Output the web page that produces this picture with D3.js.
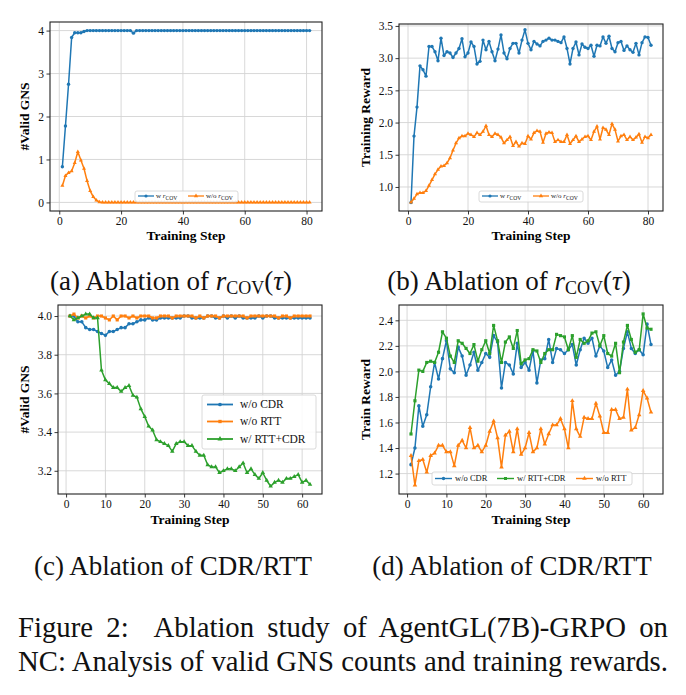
<!DOCTYPE html>
<html>
<head>
<meta charset="utf-8">
<script src="https://cdn.jsdelivr.net/npm/d3@7"></script>
<style>
  body { margin: 0; background: #fff; }
  svg { display: block; font-family: "Liberation Serif", "Times New Roman", serif; }
</style>
</head>
<body>
<script>
// ---- data ----
var stepsAB = d3.range(1, 82);   // training steps 1..81
var stepsCD = d3.range(1, 63);   // training steps 1..62

var validWithCov = [0.83,1.78,2.75,3.84,3.95,3.95,3.95,3.98,4.0,4.0,
  4.0,4.0,4.0,4.0,4.0,4.0,4.0,4.0,4.0,4.0,
  4.0,4.0,4.0,3.94,4.0,4.0,4.0,4.0,4.0,4.0,
  4.0,4.0,4.0,4.0,4.0,4.0,4.0,4.0,4.0,4.0,
  4.0,4.0,4.0,4.0,4.0,4.0,4.0,4.0,4.0,4.0,
  4.0,4.0,4.0,4.0,4.0,4.0,4.0,4.0,4.0,4.0,
  4.0,4.0,4.0,4.0,4.0,4.0,4.0,4.0,4.0,4.0,
  4.0,4.0,4.0,4.0,4.0,4.0,4.0,4.0,4.0,4.0,
  4.0];
var validWithoutCov = [0.39,0.62,0.69,0.73,0.92,1.18,0.98,0.79,0.50,0.27,
  0.13,0.05,0.01,0,0,0,0,0,0,0,
  0,0,0,0,0,0,0,0,0,0,
  0,0,0,0,0,0,0,0,0,0,
  0,0,0,0,0,0,0,0,0,0,
  0,0,0,0,0,0,0,0,0,0,
  0,0,0,0,0,0,0,0,0,0,
  0,0,0,0,0,0,0,0,0,0,
  0];

var rewardWithCov = [0.76,1.79,2.24,2.88,2.82,2.72,3.18,3.18,3.10,2.96,
  3.31,3.04,3.10,3.08,3.01,3.08,3.15,3.30,3.02,3.08,
  3.25,3.18,2.91,2.95,3.28,3.13,3.26,3.10,2.96,3.14,
  3.36,3.08,2.99,3.15,3.23,3.23,3.08,3.28,3.44,3.23,
  3.13,3.26,3.22,3.19,3.26,3.28,3.31,3.28,3.28,3.26,
  3.24,3.33,3.15,2.91,3.15,3.25,3.05,3.22,3.17,3.15,
  3.20,3.03,3.20,3.19,3.33,3.23,3.34,3.15,3.10,3.24,
  3.26,3.12,3.19,3.13,3.09,3.23,3.05,3.24,3.33,3.32,
  3.20];
var rewardWithoutCov = [0.76,0.82,0.89,0.91,0.91,0.94,1.02,1.11,1.20,1.27,
  1.32,1.33,1.37,1.45,1.57,1.68,1.76,1.79,1.79,1.83,
  1.81,1.78,1.84,1.81,1.86,1.95,1.81,1.78,1.83,1.81,
  1.77,1.68,1.73,1.78,1.64,1.70,1.63,1.68,1.67,1.79,
  1.74,1.84,1.87,1.86,1.69,1.83,1.85,1.84,1.70,1.73,
  1.70,1.70,1.81,1.67,1.73,1.79,1.70,1.74,1.78,1.79,
  1.73,1.86,1.94,1.74,1.92,1.89,1.81,1.98,1.89,1.71,
  1.79,1.81,1.73,1.78,1.73,1.77,1.82,1.69,1.78,1.76,
  1.81];

var validNoCdr = [4.00,4.00,3.97,3.97,3.94,3.93,3.93,3.92,3.91,3.90,
  3.92,3.92,3.93,3.94,3.94,3.96,3.96,3.97,3.98,3.98,
  3.99,3.98,3.98,3.99,3.99,3.99,3.99,3.99,3.99,4.00,
  4.00,3.99,3.99,3.99,3.99,4.00,4.00,3.99,3.99,4.00,
  3.99,4.00,3.99,4.00,3.99,3.99,3.99,3.99,4.00,3.99,
  4.00,4.00,3.99,3.99,3.99,3.99,3.99,3.99,3.99,3.99,
  3.99,3.99];
var validNoRtt = [4.00,4.01,3.99,4.00,3.99,4.00,3.99,4.00,4.00,3.99,
  3.98,4.00,3.98,4.00,4.00,3.99,4.00,3.99,4.00,4.00,
  4.00,3.99,3.99,4.00,4.00,4.00,3.99,4.00,4.00,4.00,
  4.00,4.00,3.99,4.00,3.99,4.00,4.00,4.00,3.99,4.00,
  4.00,4.00,4.00,4.00,4.00,3.99,4.00,4.00,4.00,4.00,
  4.00,4.00,4.00,3.99,4.00,4.00,3.99,4.00,4.00,4.00,
  4.00,4.00];
var validRttCdr = [4.00,3.98,3.99,4.00,4.01,4.01,3.99,3.99,3.72,3.67,
  3.65,3.63,3.63,3.61,3.63,3.64,3.59,3.58,3.52,3.48,
  3.43,3.41,3.36,3.35,3.34,3.33,3.30,3.34,3.35,3.35,
  3.33,3.33,3.30,3.28,3.28,3.23,3.22,3.22,3.19,3.20,
  3.21,3.21,3.20,3.22,3.24,3.19,3.21,3.18,3.16,3.19,
  3.15,3.12,3.14,3.15,3.14,3.16,3.16,3.17,3.18,3.14,
  3.15,3.13];

var rewardNoCdr = [1.27,1.40,1.73,1.57,1.66,1.88,2.07,1.94,2.10,2.24,
  2.02,1.99,2.19,2.12,1.97,2.05,2.15,2.01,2.07,2.14,
  2.11,2.28,2.23,1.87,2.07,2.05,1.98,2.22,2.03,2.07,
  2.01,2.16,1.91,2.09,2.10,2.25,2.07,2.18,2.17,2.14,
  2.17,2.21,2.05,2.17,2.26,2.22,2.26,2.12,2.20,2.16,
  2.03,2.09,1.97,2.00,2.18,2.31,2.18,2.14,2.17,2.13,
  2.37,2.21];
var rewardRttCdr = [1.51,1.77,2.01,2.00,2.07,2.08,2.07,2.15,2.31,2.26,
  2.12,2.07,2.24,2.22,2.18,2.14,2.21,2.08,2.17,2.24,
  2.14,2.36,2.24,2.07,2.23,2.27,2.18,2.32,2.06,2.09,
  2.10,2.17,2.16,2.07,2.14,2.17,2.17,2.29,2.28,2.27,
  2.17,2.28,2.11,2.25,2.22,2.24,2.30,2.31,2.20,2.28,
  2.14,2.12,2.22,1.99,2.23,2.36,2.25,2.15,2.17,2.45,
  2.34,2.33];
var rewardNoRtt = [1.34,1.11,1.30,1.31,1.21,1.34,1.36,1.42,1.42,1.37,
  1.37,1.26,1.42,1.46,1.40,1.56,1.40,1.42,1.37,1.42,
  1.53,1.61,1.48,1.25,1.50,1.53,1.37,1.55,1.35,1.40,
  1.52,1.37,1.40,1.55,1.43,1.51,1.58,1.58,1.63,1.55,
  1.40,1.77,1.55,1.49,1.64,1.63,1.63,1.75,1.65,1.52,
  1.52,1.70,1.70,1.63,1.64,1.86,1.54,1.56,1.66,1.85,
  1.79,1.68];

// tick labels
var ticksAB = [0, 20, 40, 60, 80];
var ticksCD = [0, 10, 20, 30, 40, 50, 60];
var yTicksA = [0, 1, 2, 3, 4];
var yTicksB = [1.0, 1.5, 2.0, 2.5, 3.0, 3.5];
var yTicksC = [3.2, 3.4, 3.6, 3.8, 4.0];
var yTicksD = [1.2, 1.4, 1.6, 1.8, 2.0, 2.2, 2.4];

var blue = "#1f77b4", orange = "#ff7f0e", green = "#2ca02c";

// legend label pieces: r_COV written with italic r and subscript
var lblWith = [{t: "w "}, {t: "r", it: true}, {t: "COV", sub: true}];
var lblWithout = [{t: "w/o "}, {t: "r", it: true}, {t: "COV", sub: true}];

var svg = d3.select("body").append("svg")
    .attr("width", 686)
    .attr("height", 695);

// write text made of pieces (italic / subscript)
function richText(sel, parts) {
  parts.forEach(function(p) {
    var ts = sel.append("tspan").text(p.t);
    if (p.it) ts.attr("font-style", "italic");
    if (p.sub) ts.attr("font-size", "0.8em").attr("dy", "0.25em");
  });
  return sel;
}

function symbolFor(name) {
  if (name == "square") return d3.symbolSquare;
  if (name == "triangle") return d3.symbolTriangle;
  return d3.symbolCircle;
}

function drawPanel(p) {
  var b = p.box;
  var x = d3.scaleLinear().domain(p.xDom).range([b[0], b[2]]);
  var y = d3.scaleLinear().domain(p.yDom).range([b[3], b[1]]);
  var g = svg.append("g");

  // grid
  g.selectAll(null).data(p.xTicks).join("line")
      .attr("x1", function(d) { return x(d); }).attr("x2", function(d) { return x(d); })
      .attr("y1", b[1]).attr("y2", b[3])
      .attr("stroke", "#d4d4d4").attr("stroke-width", 0.9);
  g.selectAll(null).data(p.yTicks).join("line")
      .attr("y1", function(d) { return y(d); }).attr("y2", function(d) { return y(d); })
      .attr("x1", b[0]).attr("x2", b[2])
      .attr("stroke", "#d4d4d4").attr("stroke-width", 0.9);

  // axes
  var ax = g.append("g").attr("transform", "translate(0," + b[3] + ")")
      .call(d3.axisBottom(x).tickValues(p.xTicks).tickSize(3.5).tickPadding(2.5).tickFormat(d3.format("d")));
  var ay = g.append("g").attr("transform", "translate(" + b[0] + ",0)")
      .call(d3.axisLeft(y).tickValues(p.yTicks).tickSize(3.5).tickPadding(2.5).tickFormat(p.fmt));
  [ax, ay].forEach(function(a) {
    a.select(".domain").remove();
    a.selectAll("text").attr("font-family", "Liberation Serif, serif").attr("font-size", 11.5).attr("fill", "#111");
    a.selectAll("line").attr("stroke", "#222").attr("stroke-width", 0.9);
  });

  // series
  var clipId = "clip" + p.id;
  g.append("clipPath").attr("id", clipId).append("rect")
      .attr("x", b[0]).attr("y", b[1]).attr("width", b[2] - b[0]).attr("height", b[3] - b[1]);
  var plot = g.append("g").attr("clip-path", "url(#" + clipId + ")");
  p.series.forEach(function(s) {
    var line = d3.line()
        .x(function(d, i) { return x(p.steps[i]); })
        .y(function(d) { return y(d); });
    plot.append("path").datum(s.values)
        .attr("d", line)
        .attr("fill", "none")
        .attr("stroke", s.color)
        .attr("stroke-width", 1.5)
        .attr("stroke-linejoin", "round");
    plot.selectAll(null).data(s.values).join("path")
        .attr("transform", function(d, i) { return "translate(" + x(p.steps[i]) + "," + y(d) + ")"; })
        .attr("d", d3.symbol().type(symbolFor(s.marker)).size(s.msize))
        .attr("fill", s.color);
  });

  // frame
  g.append("rect")
      .attr("x", b[0]).attr("y", b[1]).attr("width", b[2] - b[0]).attr("height", b[3] - b[1])
      .attr("fill", "none").attr("stroke", "#222").attr("stroke-width", 1.1);

  // axis labels
  g.append("text")
      .attr("x", (b[0] + b[2]) / 2).attr("y", p.xLabelY)
      .attr("text-anchor", "middle")
      .attr("font-weight", "bold").attr("font-size", 13.5)
      .text("Training Step");
  g.append("text")
      .attr("transform", "translate(" + p.yLabelX + "," + (b[1] + b[3]) / 2 + ") rotate(-90)")
      .attr("text-anchor", "middle")
      .attr("font-weight", "bold").attr("font-size", 13.5)
      .text(p.yLabel);

  // legend
  var L = p.legend;
  var lg = g.append("g");
  lg.append("rect")
      .attr("x", L.box[0]).attr("y", L.box[1]).attr("width", L.box[2]).attr("height", L.box[3])
      .attr("rx", 2).attr("fill", "#fff").attr("fill-opacity", 0.85)
      .attr("stroke", "#d0d0d0").attr("stroke-width", 0.8);
  L.items.forEach(function(it) {
    var s = p.series[it.series];
    lg.append("line")
        .attr("x1", it.hx).attr("x2", it.hx + L.hlen)
        .attr("y1", it.y).attr("y2", it.y)
        .attr("stroke", s.color).attr("stroke-width", L.lw);
    lg.append("path")
        .attr("transform", "translate(" + (it.hx + L.hlen / 2) + "," + it.y + ")")
        .attr("d", d3.symbol().type(symbolFor(s.marker)).size(L.msize))
        .attr("fill", s.color);
    var t = lg.append("text")
        .attr("x", it.tx).attr("y", it.y)
        .attr("dy", "0.33em")
        .attr("font-size", L.fs)
        .attr("fill", "#111");
    richText(t, it.label);
  });
}

var panels = [
  {id: "a", box: [50, 22, 322, 211], xDom: [-3, 85], yDom: [-0.2, 4.2],
   xTicks: ticksAB, yTicks: yTicksA, fmt: d3.format("d"), steps: stepsAB,
   yLabel: "#Valid GNS", yLabelX: 29, xLabelY: 240,
   series: [
     {values: validWithCov, color: blue, marker: "circle", msize: 9},
     {values: validWithoutCov, color: orange, marker: "triangle", msize: 7}
   ],
   legend: {box: [135, 191, 103, 11], hlen: 16, lw: 1.3, msize: 8, fs: 7,
     items: [
       {series: 0, hx: 138, tx: 156, y: 196, label: lblWith},
       {series: 1, hx: 188, tx: 206, y: 196, label: lblWithout}
     ]}},
  {id: "b", box: [399, 24, 663, 211], xDom: [-3, 85], yDom: [0.627, 3.53],
   xTicks: ticksAB, yTicks: yTicksB, fmt: d3.format(".1f"), steps: stepsAB,
   yLabel: "Training Reward", yLabelX: 370, xLabelY: 240,
   series: [
     {values: rewardWithCov, color: blue, marker: "circle", msize: 9},
     {values: rewardWithoutCov, color: orange, marker: "triangle", msize: 7}
   ],
   legend: {box: [479, 191, 104, 11], hlen: 16, lw: 1.3, msize: 8, fs: 7,
     items: [
       {series: 0, hx: 482, tx: 500, y: 196, label: lblWith},
       {series: 1, hx: 533, tx: 551, y: 196, label: lblWithout}
     ]}},
  {id: "c", box: [58, 305, 322, 494], xDom: [-2.05, 65.05], yDom: [3.08, 4.057],
   xTicks: ticksCD, yTicks: yTicksC, fmt: d3.format(".1f"), steps: stepsCD,
   yLabel: "#Valid GNS", yLabelX: 29, xLabelY: 524,
   series: [
     {values: validNoCdr, color: blue, marker: "circle", msize: 10},
     {values: validNoRtt, color: orange, marker: "square", msize: 10},
     {values: validRttCdr, color: green, marker: "triangle", msize: 9}
   ],
   legend: {box: [202, 395, 114, 54], hlen: 26, lw: 1.8, msize: 11, fs: 11.5,
     items: [
       {series: 0, hx: 207, tx: 240, y: 404.5, label: [{t: "w/o CDR"}]},
       {series: 1, hx: 207, tx: 240, y: 421.5, label: [{t: "w/o RTT"}]},
       {series: 2, hx: 207, tx: 240, y: 439, label: [{t: "w/ RTT+CDR"}]}
     ]}},
  {id: "d", box: [399, 305, 663, 494], xDom: [-2.05, 65.05], yDom: [1.04, 2.52],
   xTicks: ticksCD, yTicks: yTicksD, fmt: d3.format(".1f"), steps: stepsCD,
   yLabel: "Train Reward", yLabelX: 370, xLabelY: 524,
   series: [
     {values: rewardNoCdr, color: blue, marker: "circle", msize: 10},
     {values: rewardRttCdr, color: green, marker: "square", msize: 10},
     {values: rewardNoRtt, color: orange, marker: "triangle", msize: 9}
   ],
   legend: {box: [432, 472, 200, 13], hlen: 17, lw: 1.4, msize: 9, fs: 8.5,
     items: [
       {series: 0, hx: 435, tx: 455, y: 478.5, label: [{t: "w/o CDR"}]},
       {series: 1, hx: 497, tx: 517, y: 478.5, label: [{t: "w/ RTT+CDR"}]},
       {series: 2, hx: 576, tx: 596, y: 478.5, label: [{t: "w/o RTT"}]}
     ]}}
];

panels.forEach(drawPanel);

// ---- sub-captions ----
function covCaption(letter, cx, cy) {
  var t = svg.append("text")
      .attr("x", cx).attr("y", cy)
      .attr("text-anchor", "middle")
      .attr("font-size", 27).attr("fill", "#111");
  t.append("tspan").text("(" + letter + ") Ablation of ");
  t.append("tspan").attr("font-style", "italic").text("r");
  t.append("tspan").attr("font-size", 18).attr("dy", 4).text("COV");
  t.append("tspan").attr("dy", -4).text("(");
  t.append("tspan").attr("font-style", "italic").text("τ");
  t.append("tspan").text(")");
}
covCaption("a", 171, 290);
covCaption("b", 509, 290);

svg.append("text").attr("x", 173).attr("y", 575).attr("text-anchor", "middle")
    .attr("font-size", 27).attr("fill", "#111").text("(c) Ablation of CDR/RTT");
svg.append("text").attr("x", 512).attr("y", 575).attr("text-anchor", "middle")
    .attr("font-size", 27).attr("fill", "#111").text("(d) Ablation of CDR/RTT");

// ---- figure caption: size so the last line fills the width, then justify line 1 ----
var captionLines = ["Figure 2:  Ablation study of AgentGL(7B)-GRPO on",
                    "NC: Analysis of valid GNS counts and training rewards."];
var captionY = [637, 671];
var probe = svg.append("text").attr("font-size", 27).text(captionLines[1]);
var capSize = 27 * 648 / probe.node().getComputedTextLength();
probe.remove();
captionLines.forEach(function(s, k) {
  var t = svg.append("text").attr("x", 18).attr("y", captionY[k])
      .attr("font-size", capSize).attr("fill", "#111")
      .style("white-space", "pre")
      .text(s);
  var w = t.node().getComputedTextLength();
  var gaps = s.split(" ").length - 1;
  if (w < 650) t.attr("word-spacing", (650 - w) / gaps);
});
</script>
</body>
</html>
